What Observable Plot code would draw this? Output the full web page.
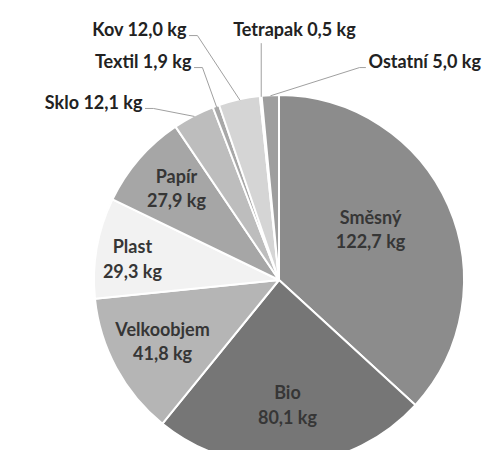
<!DOCTYPE html>
<html><head><meta charset="utf-8">
<script src="https://cdn.jsdelivr.net/npm/d3@7"></script>
<script src="https://cdn.jsdelivr.net/npm/@observablehq/plot@0.6"></script>
<style>
body{margin:0;background:#fff}
</style>
</head><body><div id="chart"></div>
<script>
// Data (clockwise from 12 o'clock)
const categories = ["Směsný","Bio","Velkoobjem","Plast","Papír","Sklo","Textil","Kov","Tetrapak","Ostatní"];
const values = [122.7, 80.1, 41.8, 29.3, 27.9, 12.1, 1.9, 12.0, 0.5, 5.0];
const unit = "kg";

// Styling
const colors = ["#8c8c8c","#767676","#b5b5b5","#f2f2f2","#a6a6a6","#bdbdbd","#a8a8a8","#d5d5d5","#e6e6e6","#9e9e9e"];
// inside label placement (in pie-radius units)
const insidePlacement = {
  "Směsný":     {x: 0.492, y: 0.284},
  "Bio":        {x: 0.043, y:-0.665},
  "Velkoobjem": {x:-0.632, y:-0.322},
  "Plast":      {x:-0.795, y: 0.124},
  "Papír":      {x:-0.557, y: 0.505}
};
// outside label placement (in pie-radius units), anchor type
const outsidePlacement = {
  "Sklo":     {x:-0.741, y:0.957, anchor:"end"},
  "Textil":   {x:-0.476, y:1.178, anchor:"end"},
  "Kov":      {x:-0.503, y:1.351, anchor:"end"},
  "Tetrapak": {x: 0.081, y:1.351, anchor:"vertical"},
  "Ostatní":  {x: 0.481, y:1.178, anchor:"start"}
};

const fmt = v => v.toFixed(1).replace(".", ",") + " " + unit;
const arcs = d3.pie().sort(null).value(d => d)(values);
const slices = arcs.map((a, i) => ({
  name: categories[i], value: values[i], label: fmt(values[i]),
  mid: (a.startAngle + a.endAngle) / 2, arc: a, color: colors[i]
}));

const k = 1 / 185; // one pixel in radius units
const inside = slices.filter(s => insidePlacement[s.name]).map(s => {
  const p = insidePlacement[s.name];
  return {...s, lx: p.x, ly: p.y, text: s.name + "\n" + s.label};
});
const outside = slices.filter(s => outsidePlacement[s.name]).map(s => {
  const p = outsidePlacement[s.name];
  return {...s, lx: p.x, ly: p.y, anchor: p.anchor, text: s.name + " " + s.label};
});
const leaders = [];
outside.forEach(s => {
  const ex = Math.sin(s.mid), ey = Math.cos(s.mid);
  let pts;
  if (s.anchor === "end") pts = [[s.lx + 3*k, s.ly - 5*k], [s.lx + 11*k, s.ly - 5*k], [ex, ey]];
  else if (s.anchor === "start") pts = [[s.lx - 3*k, s.ly - 5*k], [s.lx - 9*k, s.ly - 5*k], [ex, ey]];
  else pts = [[ex, s.ly - 13*k], [ex, ey]];
  pts.forEach(p => leaders.push({name: s.name, x: p[0], y: p[1]}));
});

function pieMark(index, scales) {
  const cx = scales.x(0), cy = scales.y(0), r = scales.x(1) - scales.x(0);
  const arcGen = d3.arc().innerRadius(0).outerRadius(r);
  const g = d3.create("svg:g").attr("transform", `translate(${cx},${cy})`);
  g.selectAll("path").data(slices).join("path")
    .attr("d", d => arcGen(d.arc))
    .attr("fill", d => d.color)
    .attr("stroke", "#fff")
    .attr("stroke-width", 2)
    .attr("stroke-linejoin", "round");
  return g.node();
}

const font = "Lato, 'Open Sans', sans-serif";
const fs = 18;
const chart = Plot.plot({
  width: 489, height: 450,
  margin: 0,
  x: {domain: [-1, 1], range: [94, 464], axis: null},
  y: {domain: [-1, 1], range: [465, 95], axis: null},
  style: {fontFamily: font, background: "#fff"},
  marks: [
    pieMark,
    Plot.line(leaders, {x: "x", y: "y", z: "name", stroke: "#a0a0a0", strokeWidth: 1}),
    Plot.text(inside, {x: "lx", y: "ly", text: "text", fill: "#363636", fontSize: fs, fontWeight: "bold", lineHeight: 1.37}),
    Plot.text(outside.filter(d => d.anchor === "end"), {x: "lx", y: "ly", text: "text", textAnchor: "end", fill: "#222", fontSize: fs, fontWeight: "bold"}),
    Plot.text(outside.filter(d => d.anchor === "start"), {x: "lx", y: "ly", text: "text", textAnchor: "start", fill: "#222", fontSize: fs, fontWeight: "bold"}),
    Plot.text(outside.filter(d => d.anchor === "vertical"), {x: "lx", y: "ly", text: "text", textAnchor: "middle", fill: "#222", fontSize: fs, fontWeight: "bold"})
  ]
});
document.getElementById("chart").appendChild(chart);
</script>
</body></html>
